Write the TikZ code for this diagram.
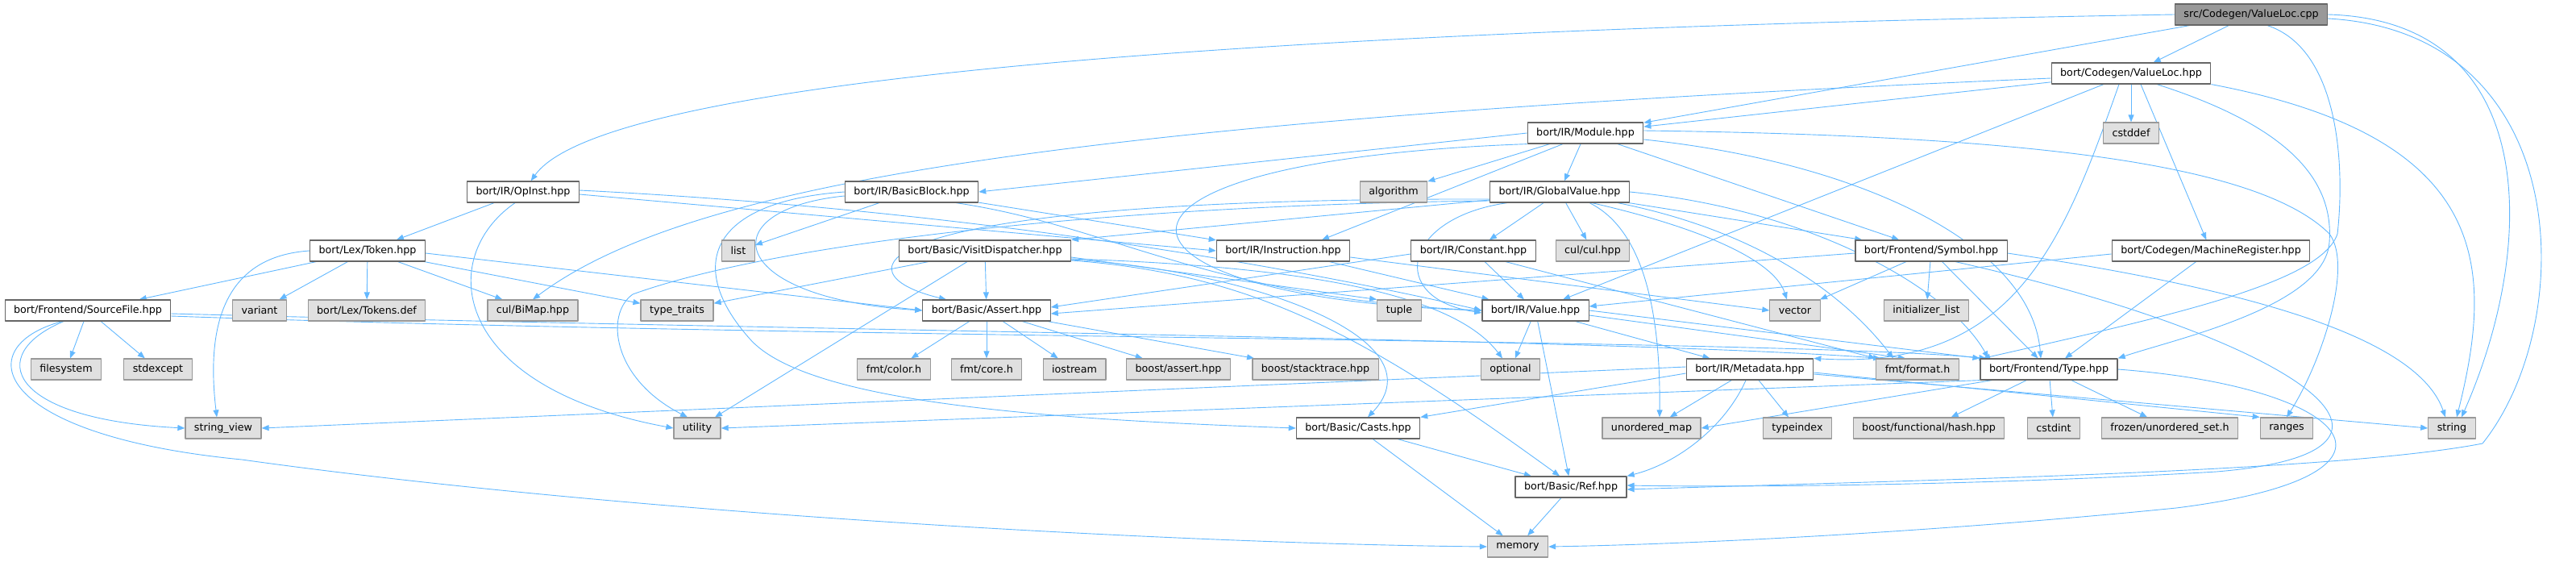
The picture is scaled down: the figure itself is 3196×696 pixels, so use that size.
\documentclass[tikz,border=0pt]{standalone}
\usepackage{fontspec}
\setmainfont{DejaVu Sans}
\usetikzlibrary{arrows.meta,backgrounds}
\definecolor{edgeblue}{HTML}{63B8FF}
\definecolor{boxgray}{HTML}{E0E0E0}
\definecolor{rootgray}{HTML}{999999}
\definecolor{rimdark}{HTML}{666666}
\definecolor{rimlight}{HTML}{999999}
\begin{document}
\begin{tikzpicture}[
				x=1pt,y=-1pt,line join = round,line cap = round,>={Triangle[length=9pt,width=7pt]},
				hdrfile/.style={rectangle,draw = rimdark,fill = white,line width=1.2pt, minimum height=26pt,inner xsep=11pt,inner ysep=0pt,font=\fontsize{12.7}{15}\selectfont},
				sysfile/.style={hdrfile,draw = rimlight,fill = boxgray},
				srcroot/.style={hdrfile,fill = rootgray},
				inc/.style={->,draw = edgeblue,line width=0.9pt}]
				\useasboundingbox (0,0) rectangle (3196,696);
				\node at (2793,18) (root) [srcroot] {src/Codegen/ValueLoc.cpp};
				\node at (2644,91) (vlh) [hdrfile] {bort/Codegen/ValueLoc.hpp};
				\node at (1967,165) (mod) [hdrfile] {bort/IR/Module.hpp};
				\node at (2644,165) (cstddef) [sysfile] {cstddef};
				\node at (649,238) (opinst) [hdrfile] {bort/IR/OpInst.hpp};
				\node at (1131,238) (bb) [hdrfile] {bort/IR/BasicBlock.hpp};
				\node at (1729,238) (algorithm) [sysfile] {algorithm};
				\node at (1935,238) (gv) [hdrfile] {bort/IR/GlobalValue.hpp};
				\node at (456,311) (token) [hdrfile] {bort/Lex/Token.hpp};
				\node at (916,311) (list) [sysfile] {list};
				\node at (1222,311) (vd) [hdrfile] {bort/Basic/VisitDispatcher.hpp};
				\node at (1592,311) (instr) [hdrfile] {bort/IR/Instruction.hpp};
				\node at (1828,311) (constant) [hdrfile] {bort/IR/Constant.hpp};
				\node at (1976,311) (cul) [sysfile] {cul/cul.hpp};
				\node at (2396,311) (symbol) [hdrfile] {bort/Frontend/Symbol.hpp};
				\node at (2743,311) (mreg) [hdrfile] {bort/Codegen/MachineRegister.hpp};
				\node at (109,385) (srcfile) [hdrfile] {bort/Frontend/SourceFile.hpp};
				\node at (322,385) (variant) [sysfile] {variant};
				\node at (455,385) (tokensdef) [sysfile] {bort/Lex/Tokens.def};
				\node at (661,385) (bimap) [sysfile] {cul/BiMap.hpp};
				\node at (840,385) (typetraits) [sysfile] {type\_traits};
				\node at (1224,385) (assert) [hdrfile] {bort/Basic/Assert.hpp};
				\node at (1736,385) (tuple) [sysfile] {tuple};
				\node at (1905,385) (value) [hdrfile] {bort/IR/Value.hpp};
				\node at (2227,385) (vector) [sysfile] {vector};
				\node at (2390,385) (initlist) [sysfile] {initializer\_list};
				\node at (82,458) (filesystem) [sysfile] {filesystem};
				\node at (196,458) (stdexcept) [sysfile] {stdexcept};
				\node at (1109,458) (fmtcolor) [sysfile] {fmt/color.h};
				\node at (1224,458) (fmtcore) [sysfile] {fmt/core.h};
				\node at (1333,458) (iostream) [sysfile] {iostream};
				\node at (1462,458) (boostassert) [sysfile] {boost/assert.hpp};
				\node at (1632,458) (stacktrace) [sysfile] {boost/stacktrace.hpp};
				\node at (1874,458) (optional) [sysfile] {optional};
				\node at (2171,458) (metadata) [hdrfile] {bort/IR/Metadata.hpp};
				\node at (2379,458) (fmtformat) [sysfile] {fmt/format.h};
				\node at (2542,458) (type) [hdrfile] {bort/Frontend/Type.hpp};
				\node at (277,531) (stringview) [sysfile] {string\_view};
				\node at (865,531) (utility) [sysfile] {utility};
				\node at (1685,531) (casts) [hdrfile] {bort/Basic/Casts.hpp};
				\node at (2049,531) (umap) [sysfile] {unordered\_map};
				\node at (2230,531) (typeindex) [sysfile] {typeindex};
				\node at (2393,531) (hash) [sysfile] {boost/functional/hash.hpp};
				\node at (2548,531) (cstdint) [sysfile] {cstdint};
				\node at (2692,531) (frozen) [sysfile] {frozen/unordered\_set.h};
				\node at (2837,531) (ranges) [sysfile] {ranges};
				\node at (3042,531) (string) [sysfile] {string};
				\node at (1949,604) (ref) [hdrfile] {bort/Basic/Ref.hpp};
				\node at (1883,678) (memory) [sysfile] {memory};
				\begin{pgfonlayer}{background}
				% ValueLoc.cpp
				\draw[inc] (root) to (vlh);
				\draw[inc] (root) to (mod);
				\draw[inc] (root.west) .. controls (1400,40) and (740,110) .. (opinst);
				\draw[inc] ([xshift=20pt]root.south) .. controls (2900,60) and (2910,200) .. (2900,290) .. controls (2880,350) and (2700,390) .. ([xshift=-82pt]type.north);
				\draw[inc] (root.east) .. controls (3150,25) and (3150,300) .. ([xshift=12pt]string.north);
				\draw[inc] ([yshift=-5pt]root.east) .. controls (3195,40) and (3200,400) .. (3080,550) .. controls (2900,585) and (2400,595) .. ([yshift=-3pt]ref.east);
				% ValueLoc.hpp
				\draw[inc] (vlh) to (mod);
				\draw[inc] ([yshift=-6pt]vlh.west) .. controls (1300,150) and (850,230) .. (bimap.north);
				\draw[inc] (vlh) to (value);
				\draw[inc] ([xshift=-15pt]vlh.south) .. controls (2560,300) and (2500,460) .. (metadata.north east);
				\draw[inc] (vlh) to (cstddef);
				\draw[inc] ([xshift=12pt]vlh.south) to (mreg);
				\draw[inc] ([xshift=32pt]vlh.south) .. controls (2850,160) and (2895,230) .. (2890,300) .. controls (2885,380) and (2700,420) .. (type.north east);
				\draw[inc] (vlh.south east) .. controls (3090,170) and (3095,330) .. ([xshift=6pt]string.north);
				% Module.hpp
				\draw[inc] (mod.west) to (bb.east);
				\draw[inc] (mod) to (algorithm);
				\draw[inc] (mod) to (gv);
				\draw[inc] ([xshift=-28pt]mod.south) to ([xshift=48pt]instr.north);
				\draw[inc] (mod) to (symbol);
				\draw[inc] ([yshift=-8pt]mod.east) .. controls (2300,200) and (2520,300) .. ([xshift=-10pt]type.north);
				\draw[inc] ([yshift=3pt]mod.east) .. controls (2500,168) and (2800,200) .. (2890,290) .. controls (2920,330) and (2880,450) .. (ranges.north);
				\draw[inc] (mod.south west) .. controls (1300,200) and (1350,370) .. (value.west);
				% OpInst.hpp
				\draw[inc] (opinst) to (token);
				\draw[inc] ([xshift=-10pt]opinst.south) .. controls (540,320) and (560,480) .. (utility.west);
				\draw[inc] ([yshift=-3pt]opinst.east) to (instr.west);
				\draw[inc] ([yshift=2pt]opinst.east) .. controls (1200,260) and (1600,330) .. (value.west);
				% BasicBlock.hpp
				\draw[inc] (bb) to (list);
				\draw[inc] (bb) to (instr);
				\draw[inc] ([xshift=55pt]bb.south) .. controls (1380,280) and (1500,370) .. (value.west);
				\draw[inc] (bb.west) .. controls (880,250) and (850,330) .. (930,420) .. controls (1000,500) and (1300,520) .. (casts.west);
				\draw[inc] ([yshift=-5pt]bb.west) .. controls (880,260) and (900,370) .. (assert.west);
				% GlobalValue.hpp
				\draw[inc] ([yshift=-10pt]gv.west) to (vd.north east);
				\draw[inc] ([yshift=-9pt]gv.west) .. controls (1050,245) and (1040,340) .. ([xshift=-50pt]assert.north);
				\draw[inc] ([yshift=-11pt]gv.west) .. controls (1350,255) and (950,305) .. (785,365) .. controls (750,390) and (760,470) .. ([xshift=-12pt]utility.north);
				\draw[inc] ([xshift=-65pt]gv.south) .. controls (1740,270) and (1720,370) .. ([yshift=-3pt]value.west);
				\draw[inc] (gv) to (constant);
				\draw[inc] (gv) to (cul);
				\draw[inc] ([xshift=37pt]gv.south) .. controls (2050,290) and (2060,420) .. ([xshift=10pt]umap.north);
				\draw[inc] ([xshift=40pt]gv.south) .. controls (2100,280) and (2200,320) .. ([xshift=-10pt]vector.north);
				\draw[inc] (gv) to (symbol);
				\draw[inc] ([xshift=72pt]gv.south) .. controls (2200,290) and (2300,380) .. ([xshift=-30pt]fmtformat.north);
				\draw[inc] (gv.east) .. controls (2250,260) and (2420,360) .. ([xshift=-75pt]type.north);
				% Token.hpp
				\draw[inc] (token) to (srcfile);
				\draw[inc] (token) to (variant);
				\draw[inc] (token) to (tokensdef);
				\draw[inc] (token) to (bimap);
				\draw[inc] (token) to (typetraits);
				\draw[inc] ([yshift=-3pt]token.east) to (assert.west);
				\draw[inc] (token.west) .. controls (280,318) and (255,400) .. ([xshift=-8pt]stringview.north);
				% VisitDispatcher.hpp
				\draw[inc] (vd) to (typetraits);
				\draw[inc] (vd) to (utility);
				\draw[inc] (vd) to (assert);
				\draw[inc] ([yshift=-8pt]vd.east) to (tuple.north west);
				\draw[inc] ([yshift=-10pt]vd.east) .. controls (1600,330) and (1800,360) .. ([xshift=-10pt]optional.north);
				\draw[inc] ([yshift=-11pt]vd.east) .. controls (1550,335) and (1790,420) .. ([xshift=12pt]casts.north);
				\draw[inc] ([yshift=-12pt]vd.east) .. controls (1560,340) and (1700,420) .. ([xshift=-14pt]ref.north);
				% Instruction.hpp, Constant.hpp
				\draw[inc] (instr) to (value);
				\draw[inc] ([yshift=-8pt]instr.east) to (vector.west);
				\draw[inc] (constant) to (value);
				\draw[inc] ([yshift=-4pt]constant.west) to ([yshift=4pt]assert.east);
				\draw[inc] ([xshift=40pt]constant.south) to (fmtformat.north west);
				% Symbol.hpp
				\draw[inc] ([yshift=-3pt]symbol.west) to ([yshift=-4pt]assert.east);
				\draw[inc] (symbol) to (vector);
				\draw[inc] (symbol) to (initlist);
				\draw[inc] (symbol) to (type);
				\draw[inc] ([yshift=-3pt]symbol.east) .. controls (2800,360) and (3000,420) .. ([xshift=-8pt]string.north);
				\draw[inc] ([xshift=30pt]symbol.south) .. controls (2850,420) and (3050,560) .. (2750,585) .. controls (2500,600) and (2200,605) .. ([yshift=2pt]ref.east);
				% MachineRegister.hpp
				\draw[inc] ([yshift=-4pt]mreg.west) to ([yshift=5pt]value.east);
				\draw[inc] (mreg) to ([xshift=20pt]type.north);
				% SourceFile.hpp
				\draw[inc] (srcfile) to (filesystem);
				\draw[inc] (srcfile) to (stdexcept);
				\draw[inc] ([xshift=-30pt]srcfile.south) .. controls (-20,440) and (10,520) .. (stringview.west);
				\draw[inc] ([xshift=-32pt]srcfile.south) .. controls (-40,430) and (-10,540) .. (300,570) .. controls (800,640) and (1500,675) .. (memory.west);
				\draw[inc] ([yshift=-4pt]srcfile.east) .. controls (1000,410) and (2000,420) .. ([xshift=6pt]fmtformat.north west);
				\draw[inc] ([yshift=-7pt]srcfile.east) .. controls (1000,420) and (2200,420) .. ([xshift=8pt]type.north west);
				% Assert.hpp
				\draw[inc] (assert) to (fmtcolor);
				\draw[inc] (assert) to (fmtcore);
				\draw[inc] (assert) to (iostream);
				\draw[inc] (assert) to (boostassert);
				\draw[inc] (assert) to (stacktrace);
				% Value.hpp, Metadata.hpp
				\draw[inc] (value) to (optional);
				\draw[inc] (value) to (ref);
				\draw[inc] (value) to (metadata);
				\draw[inc] (value.east) to (type.north west);
				\draw[inc] ([yshift=-6pt]value.east) to ([xshift=-15pt]fmtformat.north);
				\draw[inc] ([yshift=3pt]metadata.west) to (stringview.east);
				\draw[inc] ([yshift=-5pt]metadata.west) to (casts.north east);
				\draw[inc] (metadata) to (umap);
				\draw[inc] (metadata) to (typeindex);
				\draw[inc] ([xshift=-5pt]metadata.south) .. controls (2140,530) and (2080,575) .. (ref.north east);
				\draw[inc] ([yshift=-4pt]metadata.east) to (ranges.north west);
				\draw[inc] ([yshift=-6pt]metadata.east) to (string.west);
				% Type.hpp
				\draw[inc] (type.south west) to (utility.east);
				\draw[inc] ([xshift=15pt]type.south west) to (umap.east);
				\draw[inc] (type) to (hash);
				\draw[inc] (type) to (cstdint);
				\draw[inc] (type) to (frozen);
				\draw[inc] (type.east) .. controls (2920,480) and (3020,590) .. (2700,630) .. controls (2400,660) and (2100,675) .. (memory.east);
				% Casts.hpp, Ref.hpp
				\draw[inc] (casts) to (ref);
				\draw[inc] (casts) to (memory);
				\draw[inc] (ref) to (memory);
				\end{pgfonlayer}
			\end{tikzpicture}
\end{document}
